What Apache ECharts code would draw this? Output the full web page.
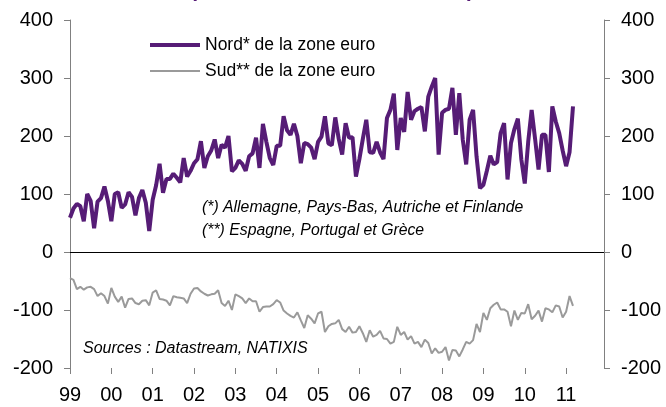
<!DOCTYPE html>
<html>
<head>
<meta charset="utf-8">
<script src="https://cdn.jsdelivr.net/npm/echarts@6/dist/echarts.min.js"></script>
<style>
  html, body { margin: 0; padding: 0; background: #fff; }
  #chart { width: 666px; height: 407px; }
</style>
</head>
<body>
<div id="chart"></div>
<script>
// mois de janvier 1999 a decembre 2011
const years = ['99', '00', '01', '02', '03', '04', '05', '06', '07', '08', '09', '10', '11']
const months = []
years.forEach(y => {
  for (let m = 1; m <= 12; m++) months.push(y + '-' + m)
})

// Nord* de la zone euro (jan 1999 - mars 2011)
const nord = [
  59, 75, 83, 79, 53, 100, 88, 41, 87, 93, 113, 88,
  53, 100, 103, 76, 82, 103, 95, 63, 93, 107, 85, 36,
  90, 115, 152, 102, 126, 126, 135, 128, 120, 162, 130, 140,
  153, 160, 191, 145, 165, 175, 194, 162, 185, 180, 200, 139,
  145, 158, 152, 140, 165, 170, 197, 145, 221, 190, 162, 150,
  183, 183, 234, 210, 202, 221, 200, 153, 188, 186, 180, 160,
  190, 199, 234, 187, 184, 232, 195, 168, 222, 197, 198, 130,
  160, 195, 228, 172, 171, 190, 172, 160, 231, 245, 273, 176,
  231, 207, 276, 228, 243, 247, 250, 208, 268, 285, 300, 168,
  240, 245, 247, 283, 202, 274, 194, 151, 228, 245, 165, 110,
  116, 140, 166, 151, 155, 205, 222, 125, 188, 212, 230, 160,
  118, 190, 245, 195, 142, 202, 202, 138, 251, 225, 205, 175,
  148, 172, 251
]

// Sud** de la zone euro
const sud = [
  -45, -48, -64, -60, -65, -61, -60, -64, -76, -71, -76, -89,
  -62, -77, -86, -77, -96, -81, -80, -88, -90, -84, -83, -92,
  -70, -66, -81, -82, -84, -92, -76, -78, -79, -80, -88, -72,
  -63, -62, -68, -72, -75, -73, -72, -66, -88, -93, -84, -100,
  -73, -76, -80, -88, -80, -85, -85, -103, -95, -94, -94, -90,
  -83, -87, -101, -106, -110, -113, -104, -118, -131, -109, -115, -123,
  -106, -103, -138, -128, -124, -123, -117, -133, -138, -129, -139, -138,
  -128, -140, -155, -135, -146, -143, -136, -149, -150, -158, -155, -129,
  -143, -138, -151, -145, -158, -155, -164, -151, -157, -175, -166, -174,
  -172, -164, -187, -169, -170, -180, -168, -155, -158, -152, -124, -138,
  -105, -117, -97, -91, -87, -99, -99, -103, -128, -101, -117, -105,
  -106, -90, -116, -110, -101, -120, -97, -99, -104, -92, -94, -113,
  -103, -76, -93
]

const font = 'Liberation Sans, Arial, sans-serif'
const purple = '#561c76'
const grey = '#9a9a9a'

const chart = echarts.init(document.getElementById('chart'))

const yAxisBase = {
  type: 'value',
  min: -200,
  max: 400,
  interval: 100,
  splitLine: { show: false },
  axisLine: { show: true, lineStyle: { color: '#808080', width: 1 } },
  axisTick: { show: true, length: 6, lineStyle: { color: '#808080' } },
  axisLabel: { color: '#000', fontSize: 20, fontFamily: font, margin: 17 }
}

chart.setOption({
  animation: false,
  grid: { left: 70, right: 62, top: 20, bottom: 39 },
  legend: {
    orient: 'vertical',
    left: 145,
    top: 30,
    itemWidth: 50,
    itemHeight: 14,
    itemGap: 6,
    symbolKeepAspect: true,
    textStyle: { fontSize: 17.5, fontFamily: font, color: '#000', lineHeight: 20 },
    data: [
      // trait seul, epaisseur comme la serie
      { name: 'Nord* de la zone euro', icon: 'path://M0,0H100V8H0Z' },
      { name: 'Sud** de la zone euro', icon: 'path://M0,0H100V4H0Z' }
    ]
  },
  xAxis: {
    type: 'category',
    data: months,
    boundaryGap: false,
    axisLine: { show: false, onZero: false },
    axisTick: {
      show: true,
      length: 6,
      interval: (i) => i % 12 === 0,
      lineStyle: { color: '#808080' }
    },
    axisLabel: {
      interval: (i) => i % 12 === 0,
      formatter: (v) => v.split('-')[0],
      color: '#000',
      fontSize: 20,
      fontFamily: font,
      margin: 17
    }
  },
  yAxis: [
    Object.assign({}, yAxisBase, { position: 'left' }),
    Object.assign({}, yAxisBase, { position: 'right' })
  ],
  series: [
    {
      name: 'Nord* de la zone euro',
      type: 'line',
      data: nord,
      symbol: 'none',
      lineStyle: { color: purple, width: 4 },
      itemStyle: { color: purple },
      z: 3
    },
    {
      name: 'Sud** de la zone euro',
      type: 'line',
      data: sud,
      symbol: 'none',
      lineStyle: { color: grey, width: 2 },
      itemStyle: { color: grey },
      markLine: {
        silent: true,
        symbol: 'none',
        label: { show: false },
        lineStyle: { color: '#000', width: 1, type: 'solid' },
        data: [{ yAxis: 0 }]
      }
    }
  ],
  graphic: [
    // bas du titre, coupe en haut de l'image
    { type: 'text', x: 190, y: -19, style: { text: '(', font: 'bold 21px ' + font, fill: purple } },
    { type: 'text', x: 346, y: -19, style: { text: ',', font: 'bold 21px ' + font, fill: purple } },
    { type: 'text', x: 467, y: -19, style: { text: ')', font: 'bold 21px ' + font, fill: purple } },
    {
      type: 'text', x: 202, y: 208,
      style: { text: '(*) Allemagne, Pays-Bas, Autriche et Finlande', font: 'italic 15.8px ' + font, fill: '#000', verticalAlign: 'middle' }
    },
    {
      type: 'text', x: 202, y: 231,
      style: { text: '(**) Espagne, Portugal et Grèce', font: 'italic 15.8px ' + font, fill: '#000', verticalAlign: 'middle' }
    },
    {
      type: 'text', x: 83, y: 349,
      style: { text: 'Sources : Datastream, NATIXIS', font: 'italic 16px ' + font, fill: '#000', verticalAlign: 'middle' }
    }
  ]
})
</script>
</body>
</html>
